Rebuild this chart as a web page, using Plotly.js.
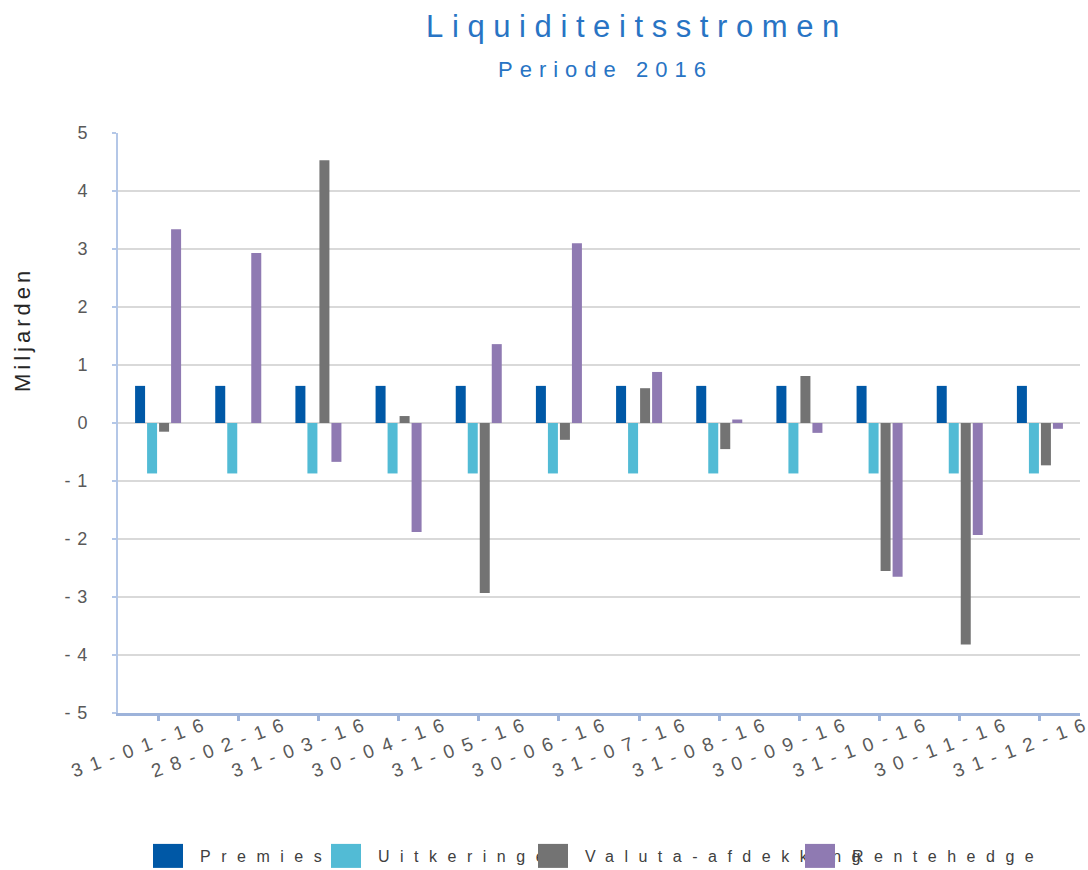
<!DOCTYPE html>
<html>
<head>
<meta charset="utf-8">
<script src="https://cdn.plot.ly/plotly-3.0.1.min.js"></script>
<style>
  html, body { margin: 0; padding: 0; background: #ffffff; }
  #chart { width: 1088px; height: 870px; }
  .gtitle { letter-spacing: 8.6px; }
  .xtick text { letter-spacing: 9px; }
  .ytick text { letter-spacing: 7px; }
  .infolayer .traces text, text.legendtext { letter-spacing: 10.5px !important; }
  .legendpoints path { transform: translate(32px, 0px) scale(2.5, 2); }
  .infolayer .scrollbox { clip-path: none !important; }
</style>
</head>
<body>
<div id="chart"></div>
<script>
// ---- data ----
const categories = ["31-01-16","28-02-16","31-03-16","30-04-16","31-05-16","30-06-16",
                    "31-07-16","31-08-16","30-09-16","31-10-16","30-11-16","31-12-16"];
const premies      = [0.64,0.64,0.64,0.64,0.64,0.64,0.64,0.64,0.64,0.64,0.64,0.64];
const uitkeringen  = [-0.87,-0.87,-0.87,-0.87,-0.87,-0.87,-0.87,-0.87,-0.87,-0.87,-0.87,-0.87];
const valuta       = [-0.15,0,4.53,0.12,-2.93,-0.29,0.60,-0.45,0.81,-2.55,-3.82,-0.73];
const rentehedge   = [3.34,2.93,-0.67,-1.88,1.36,3.10,0.88,0.06,-0.17,-2.65,-1.93,-0.10];
const seriesNames  = ["Premies","Uitkeringen","Valuta-afdekking","Rentehedge"];
const yTickVals    = [-5,-4,-3,-2,-1,0,1,2,3,4,5];
const yTickText    = ["-5","-4","-3","-2","-1","0","1","2","3","4","5"];
const titleText    = "Liquiditeitsstromen";
const subtitleText = "Periode 2016";
const yTitleText   = "Miljarden";

const colors = ["#0058A6","#52BBD5","#737373","#8F7AB2"];
const values = [premies, uitkeringen, valuta, rentehedge];
const legendIds = ["legend","legend2","legend3","legend4"];

const traces = values.map((v, i) => ({
  type: "bar",
  name: seriesNames[i],
  x: categories,
  y: v,
  marker: { color: colors[i], line: { width: 0 } },
  legend: legendIds[i],
  hoverinfo: "x+y+name"
}));

const W = 1088, H = 870;
const L = 118, R = 8, T = 133, B = 157;
const pw = W - L - R, ph = H - T - B;
const px = (p) => (p - L) / pw;
const py = (p) => (H - B - p) / ph;

const legendX = [153, 331, 538, 805];
const legendBase = {
  orientation: "h",
  xref: "container", yref: "container",
  xanchor: "left", yanchor: "middle",
  y: (H - 856) / H,
  bgcolor: "rgba(0,0,0,0)",
  borderwidth: 0,
  itemwidth: 54,
  itemclick: false, itemdoubleclick: false,
  font: { family: "Liberation Sans, Arial, sans-serif", size: 16, color: "#404040" }
};

const layout = {
  width: W, height: H,
  margin: { l: L, r: R, t: T, b: B, pad: 0 },
  paper_bgcolor: "#ffffff",
  plot_bgcolor: "#ffffff",
  font: { family: "Liberation Sans, Arial, sans-serif", color: "#595959" },
  title: {
    text: titleText,
    font: { family: "Liberation Sans, Arial, sans-serif", size: 31, color: "#2874C4" },
    xref: "paper", x: px(637), xanchor: "center",
    yref: "container", y: 1 - 15 / H, yanchor: "top"
  },
  barmode: "group",
  bargap: 0.401,
  bargroupgap: 0.167,
  xaxis: {
    type: "category",
    range: [-0.5, 11.5],
    showgrid: false,
    zeroline: false,
    showline: true,
    linecolor: "#9DB3DA",
    linewidth: 3,
    ticks: "outside",
    ticklen: 5,
    tickwidth: 3,
    tickcolor: "#9DB3DA",
    tickangle: -20,
    ticklabelshift: 52,
    ticklabelstandoff: -16,
    tickfont: { family: "Liberation Sans, Arial, sans-serif", size: 19, color: "#595959" },
    fixedrange: true
  },
  yaxis: {
    range: [-5, 5],
    tickvals: yTickVals,
    ticktext: yTickText,
    showgrid: true,
    gridcolor: "#D9D9D9",
    gridwidth: 2,
    zeroline: false,
    showline: true,
    linecolor: "#B4C7E7",
    linewidth: 2,
    ticks: "outside",
    ticklen: 4,
    tickwidth: 2,
    tickcolor: "#B4C7E7",
    ticklabelstandoff: 14,
    tickfont: { family: "Liberation Sans, Arial, sans-serif", size: 18, color: "#595959" },
    fixedrange: true
  },
  annotations: [
    {
      text: subtitleText,
      xref: "paper", yref: "paper",
      x: px(605), y: py(69),
      xanchor: "center", yanchor: "middle",
      showarrow: false,
      font: { family: "Liberation Sans, Arial, sans-serif", size: 22, color: "#2874C4" },
      captureevents: false
    },
    {
      text: yTitleText,
      xref: "paper", yref: "paper",
      x: px(22), y: py(330),
      xanchor: "center", yanchor: "middle",
      textangle: -90,
      showarrow: false,
      font: { family: "Liberation Sans, Arial, sans-serif", size: 22, color: "#262626" }
    }
  ],
  showlegend: true
};
legendIds.forEach((id, i) => {
  layout[id] = Object.assign({}, legendBase, { x: (legendX[i] - 17) / W });
});

function restyleText() {
  const ann = document.querySelectorAll(".annotation-text");
  if (ann[0]) ann[0].style.letterSpacing = "7px";
  if (ann[1]) ann[1].style.letterSpacing = "4px";
  document.querySelectorAll("#chart text").forEach(t => {
    if (seriesNames.indexOf(t.textContent.trim()) >= 0) {
      t.style.letterSpacing = "10.5px";
      t.querySelectorAll("tspan").forEach(s => { s.style.letterSpacing = "10.5px"; });
    }
  });
  document.querySelectorAll(".legendpoints path").forEach(p => {
    p.style.transform = "translate(32px, 0px) scale(2.5, 2)";
  });
  document.querySelectorAll(".infolayer .scrollbox").forEach(g => {
    g.removeAttribute("clip-path");
    g.style.clipPath = "none";
  });
}

Plotly.newPlot("chart", traces, layout, { displayModeBar: false }).then(() => {
  restyleText();
  setTimeout(restyleText, 50);
  setTimeout(restyleText, 300);
});
</script>
</body>
</html>
